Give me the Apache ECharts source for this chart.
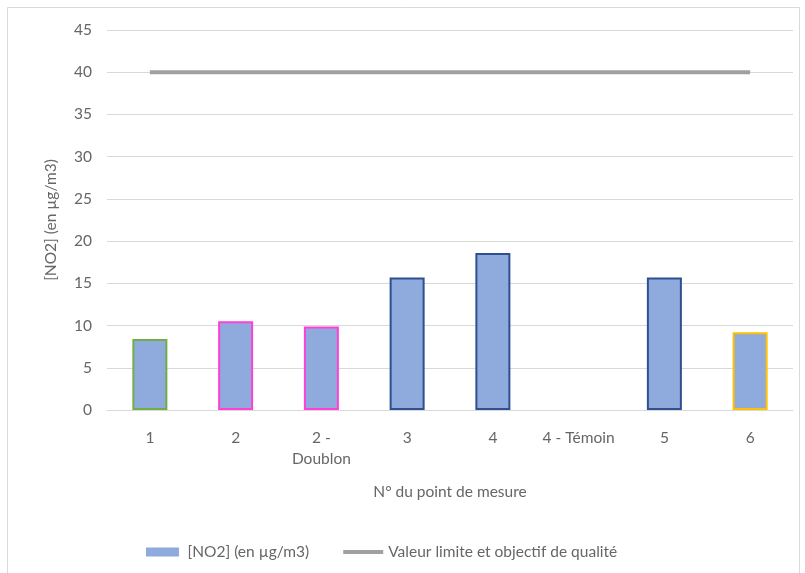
<!DOCTYPE html>
<html>
<head>
<meta charset="utf-8">
<script src="https://cdn.jsdelivr.net/npm/echarts@6/dist/echarts.min.js"></script>
<style>
  html, body { margin: 0; padding: 0; background: #fff; }
  #chart { width: 805px; height: 573px; }
</style>
</head>
<body>
<div id="chart"></div>
<script>
// Measurement points along the x axis
const categories = ["1", "2", "2 -\nDoublon", "3", "4", "4 - Témoin", "5", "6"];
// NO2 concentrations (µg/m3); the control point has no value
const no2Values = [8.4, 10.5, 9.9, 15.7, 18.6, null, 15.7, 9.2];
// Regulatory limit / quality objective
const limitValues = [40, 40, 40, 40, 40, 40, 40, 40];
// Outline colour of each bar
const barBorders = ["#70ad47", "#ff3fd8", "#ff3fd8", "#2f4f8f", "#2f4f8f", "#2f4f8f", "#2f4f8f", "#ffc000"];
const yTicks = { min: 0, max: 45, step: 5 };

const FONT = "Lato, 'Noto Sans', sans-serif";
const FS = 15.5;
const TXT = '#666666';
const chart = echarts.init(document.getElementById('chart'), null, { renderer: 'canvas' });

chart.setOption({
  animation: false,
  backgroundColor: '#ffffff',
  textStyle: { fontFamily: FONT },
  graphic: [{
    type: 'rect',
    shape: { x: 7.5, y: 7.5, width: 792, height: 570 },
    style: { fill: 'none', stroke: '#d9d9d9', lineWidth: 1 },
    silent: true
  }],
  grid: { left: 107, right: 12, top: 30, bottom: 163 },
  legend: {
    top: 539,
    left: 141,
    itemGap: 34,
    itemWidth: 40,
    itemHeight: 9,
    textStyle: { color: TXT, fontSize: FS, fontFamily: FONT },
    data: [
      { name: '[NO2] (en µg/m3)', icon: 'path://M0,0 H33 V9 H0 Z', itemStyle: { color: '#8faadc', borderWidth: 0 } },
      { name: 'Valeur limite et objectif de qualité', icon: 'path://M0,0 H40 V4 H0 Z', itemStyle: { color: '#a0a0a0' } }
    ]
  },
  xAxis: {
    type: 'category',
    data: categories,
    name: 'N° du point de mesure',
    nameLocation: 'middle',
    nameGap: 74,
    nameTextStyle: { color: TXT, fontSize: FS, fontFamily: FONT },
    axisLine: { lineStyle: { color: '#d9d9d9', width: 1 } },
    axisTick: { show: false },
    axisLabel: { color: TXT, fontSize: FS, margin: 17, lineHeight: 21, interval: 0, fontFamily: FONT },
    splitLine: { show: false }
  },
  yAxis: {
    type: 'value',
    min: yTicks.min,
    max: yTicks.max,
    interval: yTicks.step,
    name: '[NO2] (en µg/m3)',
    nameLocation: 'middle',
    nameGap: 48,
    nameRotate: 90,
    nameTextStyle: { color: TXT, fontSize: FS, fontFamily: FONT },
    axisLine: { show: false },
    axisTick: { show: false },
    axisLabel: { color: TXT, fontSize: FS, margin: 15, fontFamily: FONT },
    splitLine: { lineStyle: { color: '#d9d9d9', width: 1 } }
  },
  series: [
    {
      name: '[NO2] (en µg/m3)',
      type: 'bar',
      barWidth: 35,
      data: no2Values.map((v, i) => ({
        value: v,
        itemStyle: { color: '#8faadc', borderColor: barBorders[i], borderWidth: 2 }
      })),
      itemStyle: { color: '#8faadc' }
    },
    {
      name: 'Valeur limite et objectif de qualité',
      type: 'line',
      data: limitValues,
      symbol: 'none',
      lineStyle: { color: '#a0a0a0', width: 4 },
      itemStyle: { color: '#a0a0a0' }
    }
  ]
});
</script>
</body>
</html>
